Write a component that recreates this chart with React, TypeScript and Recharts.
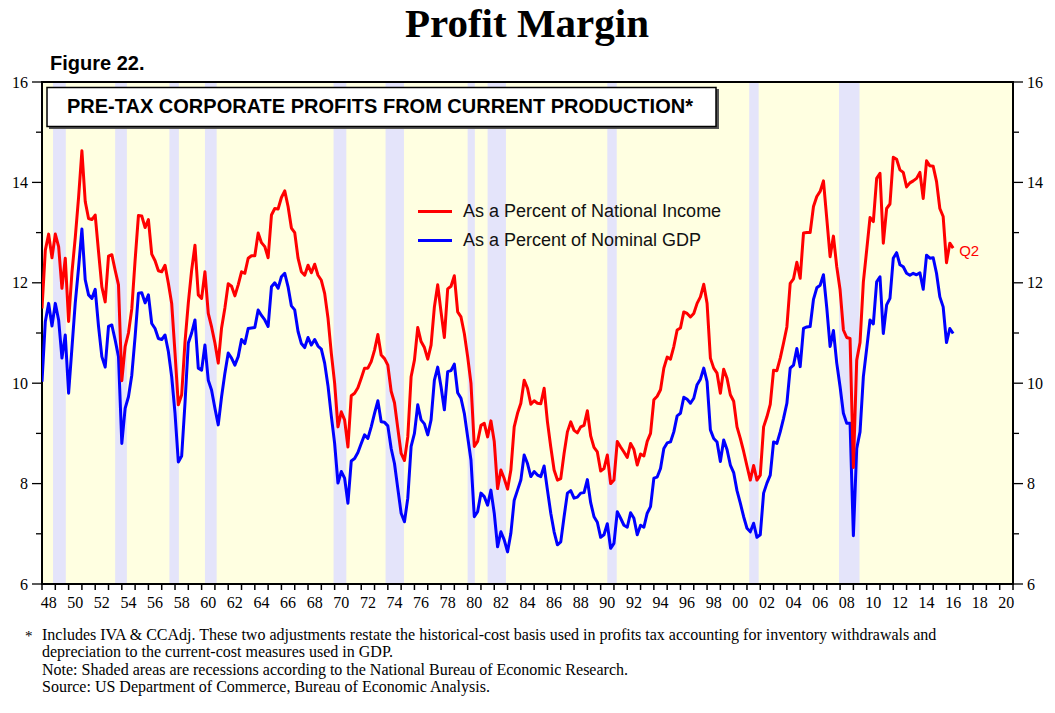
import React from 'react';
import { LineChart, Line, XAxis, YAxis, ReferenceArea, Legend, LabelList } from 'recharts';

// Quarterly readings, first value is 1947 Q4 (plotted at the quarter's end, 1948.0)
const START_YEAR = 1948;

const nationalIncome = [
  11.49, 12.65, 12.97, 12.5, 12.97, 12.72, 11.89, 12.49,
  11.23, 12.2, 12.9, 13.7, 14.63, 13.62, 13.28, 13.26,
  13.35, 12.62, 11.92, 11.62, 12.53, 12.56, 12.25, 11.96,
  10.05, 10.73, 11.0, 11.48, 12.45, 13.34, 13.33, 13.1,
  13.26, 12.57, 12.44, 12.24, 12.22, 12.35, 11.99, 11.59,
  10.6, 9.57, 9.77, 10.82, 11.6, 12.25, 12.75, 11.76,
  11.69, 12.22, 11.39, 11.12, 10.8, 10.4, 11.1, 11.5,
  11.98, 11.93, 11.74, 11.96, 12.22, 12.19, 12.49, 12.54,
  12.54, 12.99, 12.8, 12.72, 12.5, 13.35, 13.48, 13.47,
  13.7, 13.83, 13.52, 13.09, 13.0, 12.49, 12.22, 12.15,
  12.35, 12.2, 12.37, 12.15, 12.05, 11.79, 11.3, 10.6,
  10.0, 9.13, 9.43, 9.27, 8.73, 9.75, 9.8, 9.91,
  10.1, 10.3, 10.3, 10.43, 10.66, 10.97, 10.56, 10.49,
  10.36, 9.84, 9.61, 9.1, 8.6, 8.46, 8.93, 10.13,
  10.46, 11.11, 10.83, 10.71, 10.48, 10.76, 11.52, 11.96,
  11.42, 10.91, 11.88, 11.93, 12.14, 11.42, 11.32, 10.99,
  10.53, 10.0, 8.74, 8.84, 9.16, 9.2, 8.93, 9.25,
  8.84, 7.9, 8.27, 8.1, 7.89, 8.27, 9.13, 9.4,
  9.6, 10.06, 9.9, 9.58, 9.65, 9.6, 9.59, 9.9,
  9.23, 8.73, 8.27, 8.07, 8.1, 8.6, 9.03, 9.23,
  9.06, 9.01, 9.13, 9.16, 9.45, 8.95, 8.72, 8.63,
  8.25, 8.3, 8.57, 8.0, 8.07, 8.84, 8.73, 8.63,
  8.52, 8.8, 8.68, 8.37, 8.59, 8.55, 8.84, 9.0,
  9.67, 9.74, 9.87, 10.3, 10.52, 10.48, 10.73, 11.06,
  11.1, 11.42, 11.39, 11.32, 11.39, 11.59, 11.72, 11.97,
  11.59, 10.5, 10.3, 10.2, 9.8, 10.28, 10.1, 9.77,
  9.64, 9.13, 8.9, 8.64, 8.35, 8.07, 8.36, 8.07,
  8.17, 9.13, 9.33, 9.58, 10.26, 10.25, 10.5, 10.8,
  11.12, 11.99, 12.08, 12.41, 12.09, 12.99, 13.0, 13.0,
  13.52, 13.72, 13.82, 14.03, 13.28, 12.52, 12.93, 12.32,
  11.86, 11.06, 10.91, 10.89, 8.32, 10.46, 10.81, 12.02,
  12.65, 13.3, 13.22, 14.08, 14.18, 12.79, 13.48, 13.57,
  14.5, 14.46, 14.25, 14.2, 13.91, 13.99, 14.03, 14.08,
  14.2, 13.68, 14.43, 14.33, 14.32, 14.02, 13.48, 13.32,
  12.4, 12.79, 12.69,
];

const nominalGdp = [
  10.03, 11.23, 11.59, 11.14, 11.59, 11.26, 10.5, 10.96,
  9.8, 10.7, 11.6, 12.3, 13.07, 12.06, 11.76, 11.69,
  11.87, 11.13, 10.53, 10.32, 11.13, 11.16, 10.86, 10.53,
  8.8, 9.5, 9.73, 10.16, 10.93, 11.79, 11.8, 11.6,
  11.76, 11.19, 11.09, 10.89, 10.87, 10.96, 10.63, 10.13,
  9.4, 8.43, 8.55, 9.6, 10.8, 11.0, 11.26, 10.3,
  10.26, 10.76, 10.06, 9.86, 9.5, 9.17, 9.73, 10.2,
  10.6, 10.5, 10.36, 10.53, 10.87, 10.79, 11.09, 11.1,
  11.11, 11.46, 11.35, 11.26, 11.13, 11.92, 12.0, 11.89,
  12.12, 12.19, 11.92, 11.54, 11.46, 11.03, 10.79, 10.71,
  10.91, 10.76, 10.87, 10.74, 10.68, 10.4, 9.95, 9.35,
  8.8, 8.01, 8.24, 8.11, 7.61, 8.45, 8.5, 8.62,
  8.8, 8.97, 8.9, 9.13, 9.4, 9.65, 9.23, 9.22,
  9.15, 8.7, 8.4, 7.9, 7.41, 7.24, 7.71, 8.74,
  9.0, 9.57, 9.27, 9.19, 8.97, 9.27, 10.06, 10.32,
  9.93, 9.47, 10.23, 10.25, 10.38, 9.81, 9.7, 9.4,
  8.93, 8.47, 7.34, 7.44, 7.81, 7.74, 7.57, 7.87,
  7.41, 6.74, 7.04, 6.88, 6.64, 7.01, 7.67, 7.87,
  8.07, 8.57, 8.4, 8.14, 8.24, 8.17, 8.14, 8.35,
  7.87, 7.41, 7.04, 6.78, 6.84, 7.34, 7.81, 7.86,
  7.71, 7.73, 7.81, 7.82, 8.08, 7.62, 7.34, 7.23,
  6.93, 6.98, 7.2, 6.71, 6.81, 7.44, 7.31, 7.17,
  7.13, 7.42, 7.31, 6.98, 7.17, 7.13, 7.41, 7.54,
  8.11, 8.13, 8.3, 8.7, 8.81, 8.83, 9.03, 9.35,
  9.4, 9.72, 9.68, 9.6, 9.7, 9.97, 10.08, 10.3,
  10.03, 9.07, 8.9, 8.83, 8.44, 8.87, 8.68, 8.37,
  8.22, 7.86, 7.61, 7.34, 7.11, 7.04, 7.21, 6.93,
  6.98, 7.81, 8.01, 8.17, 8.83, 8.8, 9.03, 9.3,
  9.6, 10.3, 10.36, 10.69, 10.33, 11.09, 11.12, 11.13,
  11.67, 11.9, 11.95, 12.16, 11.5, 10.73, 11.05, 10.4,
  9.93, 9.4, 9.2, 9.2, 6.96, 8.7, 9.03, 10.13,
  10.69, 11.26, 11.18, 12.02, 12.12, 10.99, 11.56, 11.69,
  12.49, 12.6, 12.36, 12.32, 12.19, 12.15, 12.19, 12.16,
  12.2, 11.87, 12.55, 12.49, 12.5, 12.19, 11.72, 11.52,
  10.81, 11.09, 10.99,
];

// NBER recessions, peak month to trough month (decimal years)
const recessions: [number, number][] = [
  [1948.83, 1949.79], [1953.5, 1954.38], [1957.58, 1958.29], [1960.25, 1961.13],
  [1969.92, 1970.88], [1973.83, 1975.21], [1980.0, 1980.54], [1981.5, 1982.88],
  [1990.5, 1991.21], [2001.17, 2001.88], [2007.92, 2009.46],
];

const yearTicks = [
  1948, 1949, 1950, 1951, 1952, 1953, 1954, 1955, 1956, 1957, 1958, 1959,
  1960, 1961, 1962, 1963, 1964, 1965, 1966, 1967, 1968, 1969, 1970, 1971,
  1972, 1973, 1974, 1975, 1976, 1977, 1978, 1979, 1980, 1981, 1982, 1983,
  1984, 1985, 1986, 1987, 1988, 1989, 1990, 1991, 1992, 1993, 1994, 1995,
  1996, 1997, 1998, 1999, 2000, 2001, 2002, 2003, 2004, 2005, 2006, 2007,
  2008, 2009, 2010, 2011, 2012, 2013, 2014, 2015, 2016, 2017, 2018, 2019,
  2020, 2021,
];
const valueTicks = [6, 7, 8, 9, 10, 11, 12, 13, 14, 15, 16];

const X_MIN = 1948;
const X_MAX = 2021;
const Y_MIN = 6;
const Y_MAX = 16;

const seriesNames = {
  income: 'As a Percent of National Income',
  gdp: 'As a Percent of Nominal GDP',
};
const lastLabel = 'Q2';

const RED = '#FF0000';
const BLUE = '#0000FF';
const PAPER = '#FFFFE1';
const RECESSION = '#E4E4FA';

const CHART_W = 1055;
const CHART_H = 713;
const MARGIN = { top: 82, right: 0, bottom: 99, left: 0 };
const AXIS_W = 42;
const PLOT_W = CHART_W - 2 * AXIS_W;
const YEAR_PX = PLOT_W / (X_MAX - X_MIN);

const data = nationalIncome.map((v, i) => ({
  t: START_YEAR + i / 4,
  income: v,
  gdp: nominalGdp[i],
}));

const serif = 'Liberation Serif, Times New Roman, serif';
const sans = 'Liberation Sans, Arial, Helvetica, sans-serif';

const XTick = (props: any) => {
  const { x, y, payload } = props;
  const yr = payload.value as number;
  const showLabel = yr % 2 === 0 && yr < X_MAX;
  return (
    <g>
      <line x1={x} y1={y} x2={x} y2={y + 6} stroke="#000" strokeWidth={1.5} />
      {showLabel ? (
        <text x={x + YEAR_PX / 2} y={y + 24} textAnchor="middle" fontFamily={serif} fontSize={16} fill="#000">
          {String(yr % 100).padStart(2, '0')}
        </text>
      ) : null}
    </g>
  );
};

const makeYTick = (side: 'left' | 'right') => (props: any) => {
  const { x, y, payload } = props;
  const v = payload.value as number;
  const major = v % 2 === 0;
  const len = major ? 10 : 6;
  const dir = side === 'left' ? -1 : 1;
  return (
    <g>
      <line x1={x} y1={y} x2={x + dir * len} y2={y} stroke="#000" strokeWidth={1.3} />
      {major ? (
        <text
          x={x + dir * 14}
          y={y + 5.5}
          textAnchor={side === 'left' ? 'end' : 'start'}
          fontFamily={serif}
          fontSize={16}
          fill="#000"
        >
          {v}
        </text>
      ) : null}
    </g>
  );
};

const LegendBox = () => (
  <div style={{ fontFamily: sans, fontSize: 18, color: '#111', lineHeight: '29px' }}>
    {[
      { name: seriesNames.income, color: RED },
      { name: seriesNames.gdp, color: BLUE },
    ].map((s) => (
      <div key={s.name} style={{ display: 'flex', alignItems: 'center', whiteSpace: 'nowrap' }}>
        <span style={{ display: 'inline-block', width: 34, height: 3, background: s.color, marginRight: 11 }} />
        <span>{s.name}</span>
      </div>
    ))}
  </div>
);

const renderQ2 = (props: any) => {
  const { x, y, index } = props;
  if (index !== data.length - 1) return null;
  return (
    <text x={x + 6} y={y + 8} fontFamily={sans} fontSize={15} fill={RED}>
      {lastLabel}
    </text>
  );
};

const footnotes = [
  'Includes IVA & CCAdj. These two adjustments restate the historical-cost basis used in profits tax accounting for inventory withdrawals and',
  'depreciation to the current-cost measures used in GDP.',
  'Note: Shaded areas are recessions according to the National Bureau of Economic Research.',
  'Source: US Department of Commerce, Bureau of Economic Analysis.',
];

export default function App() {
  return (
    <div style={{ position: 'absolute', left: 0, top: 0, width: CHART_W, height: CHART_H, background: '#fff' }}>
      <LineChart width={CHART_W} height={CHART_H} data={data} margin={MARGIN}>
        <XAxis
          type="number"
          dataKey="t"
          domain={[X_MIN, X_MAX]}
          ticks={yearTicks}
          interval={0}
          allowDataOverflow
          axisLine={false}
          tickLine={false}
          tickSize={0}
          tickMargin={0}
          height={30}
          tick={<XTick />}
        />
        <YAxis
          yAxisId="left"
          domain={[Y_MIN, Y_MAX]}
          ticks={valueTicks}
          interval={0}
          allowDataOverflow
          axisLine={false}
          tickLine={false}
          tickSize={0}
          tickMargin={0}
          width={AXIS_W}
          tick={makeYTick('left')}
        />
        <YAxis
          yAxisId="right"
          orientation="right"
          domain={[Y_MIN, Y_MAX]}
          ticks={valueTicks}
          interval={0}
          allowDataOverflow
          axisLine={false}
          tickLine={false}
          tickSize={0}
          tickMargin={0}
          width={AXIS_W}
          tick={makeYTick('right')}
        />
        <ReferenceArea yAxisId="left" x1={X_MIN} x2={X_MAX} y1={Y_MIN} y2={Y_MAX} fill={PAPER} fillOpacity={1} stroke="none" />
        {recessions.map(([a, b]) => (
          <ReferenceArea
            key={a}
            yAxisId="left"
            x1={a}
            x2={b}
            y1={Y_MIN}
            y2={Y_MAX}
            fill={RECESSION}
            fillOpacity={1}
            stroke="none"
          />
        ))}
        <Line
          yAxisId="left"
          type="linear"
          dataKey="gdp"
          stroke={BLUE}
          strokeWidth={3}
          dot={false}
          activeDot={false}
          isAnimationActive={false}
          strokeLinejoin="round"
        />
        <Line
          yAxisId="left"
          type="linear"
          dataKey="income"
          stroke={RED}
          strokeWidth={3}
          dot={false}
          activeDot={false}
          isAnimationActive={false}
          strokeLinejoin="round"
        >
          <LabelList dataKey="income" content={renderQ2} />
        </Line>
        <ReferenceArea
          yAxisId="left"
          x1={X_MIN}
          x2={X_MAX}
          y1={Y_MIN}
          y2={Y_MAX}
          fill="none"
          stroke="#000"
          strokeWidth={2}
          ifOverflow="visible"
        />
        <Legend
          layout="vertical"
          align="center"
          verticalAlign="middle"
          content={<LegendBox />}
          wrapperStyle={{ position: 'absolute', left: 418, top: 197, width: 330 }}
        />
      </LineChart>
      <svg
        width={CHART_W}
        height={CHART_H}
        style={{ position: 'absolute', left: 0, top: 0, pointerEvents: 'none' }}
      >
        <text x={527} y={37} textAnchor="middle" fontFamily={serif} fontWeight="bold" fontSize={41} fill="#000">
          Profit Margin
        </text>
        <text x={50} y={70} fontFamily={sans} fontWeight="bold" fontSize={20} fill="#000">
          Figure 22.
        </text>
        <rect x={49} y={89} width={670} height={40} fill="#555" />
        <rect x={47} y={87.5} width={669} height={39} fill="#fff" stroke="#000" strokeWidth={1.5} />
        <text x={67} y={113} fontFamily={sans} fontWeight="bold" fontSize={20} fill="#000">
          PRE-TAX CORPORATE PROFITS FROM CURRENT PRODUCTION*
        </text>
        <text x={25} y={641} fontFamily={serif} fontSize={15} fill="#000">*</text>
        {footnotes.map((line, i) => (
          <text key={i} x={42} y={640 + i * 17.4} fontFamily={serif} fontSize={16} fill="#000">
            {line}
          </text>
        ))}
      </svg>
    </div>
  );
}
